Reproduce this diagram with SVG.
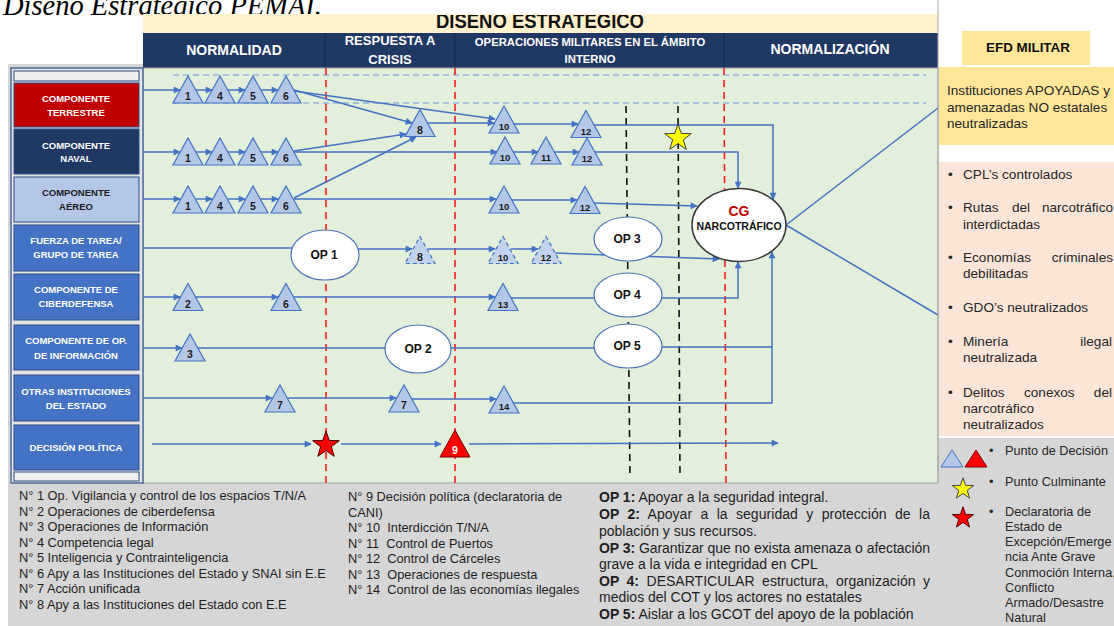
<svg xmlns="http://www.w3.org/2000/svg" width="1114" height="626" viewBox="0 0 1114 626">
<defs>
<style>
.f{font-family:"Liberation Sans",Arial,sans-serif}
.hdr{font-family:"Liberation Sans",Arial,sans-serif;font-weight:bold;fill:#fff;text-anchor:middle}
.cl{font-family:"Liberation Sans",Arial,sans-serif;font-weight:bold;font-size:9.5px;fill:#fff;text-anchor:middle}
.cld{fill:#1a1a1a}
.box{stroke:#2f4f86;stroke-width:1}
.t{fill:#b4c7e7;stroke:#4472c4;stroke-width:1.2}
.td{fill:#c3d2ec;stroke:#4472c4;stroke-width:1.2;stroke-dasharray:4 3}
.n{font-family:"Liberation Sans",Arial,sans-serif;font-weight:bold;font-size:10.5px;fill:#1a1a1a;text-anchor:middle}
.n2{font-size:9.5px}
.c{fill:none;stroke:#4472c4;stroke-width:1.5}
.a{marker-end:url(#arr)}
.op{fill:#fff;stroke:#4a72b8;stroke-width:1.2}
.opt{font-family:"Liberation Sans",Arial,sans-serif;font-weight:bold;font-size:12px;fill:#111;text-anchor:middle}
.rd{stroke:#ff1a1a;stroke-width:1.6;stroke-dasharray:7 5}
.bd{stroke:#111;stroke-width:1.6;stroke-dasharray:7 5}
.hd{stroke:#6b93d6;stroke-width:1.2;stroke-dasharray:6 4}
.lg{font-family:"Liberation Sans",Arial,sans-serif;font-size:12.8px;fill:#1e1e1e}
.lp{font-family:"Liberation Sans",Arial,sans-serif;font-size:14px;fill:#1e1e1e}
.rp{font-family:"Liberation Sans",Arial,sans-serif;font-size:13.6px;fill:#262626}
.re{text-anchor:end}
.rl{font-family:"Liberation Sans",Arial,sans-serif;font-size:12.7px;fill:#262626}
.b{font-weight:bold}
.pre{white-space:pre}
</style>
<marker id="arr" viewBox="0 0 10 10" refX="9" refY="5" markerWidth="9" markerHeight="7" markerUnits="userSpaceOnUse" orient="auto"><path d="M0,0 L10,5 L0,10 z" fill="#4472c4"/></marker>
<path id="tri" d="M0,-13.5 L15,13.5 L-15,13.5 Z"/>
<path id="star" d="M0,-14 L3.29,-4.53 L13.31,-4.33 L5.33,1.73 L8.23,11.33 L0,5.6 L-8.23,11.33 L-5.33,1.73 L-13.31,-4.33 L-3.29,-4.53 Z"/>
<clipPath id="bandclip"><rect x="143" y="15" width="795" height="18"/></clipPath>
</defs>

<rect width="1114" height="626" fill="#fff"/>
<rect x="8" y="64" width="930" height="562" fill="#d6d6d6"/>
<rect x="938" y="438" width="176" height="188" fill="#d6d6d6"/>

<text x="3" y="15" font-family="'Liberation Serif','Times New Roman',serif" font-style="italic" font-size="28.5" fill="#000">Diseño Estratégico  PEMAI.</text>

<g id="header">
<rect x="143" y="14" width="795" height="19" fill="#fff2cc"/>
<text x="540" y="28" clip-path="url(#bandclip)" font-family="'Liberation Sans',Arial,sans-serif" font-weight="bold" font-size="20" textLength="208" lengthAdjust="spacingAndGlyphs" text-anchor="middle" fill="#111">DISEÑO ESTRATÉGICO</text>
<rect x="143" y="33" width="795" height="35" fill="#1f3864"/>
<line x1="325" y1="33" x2="325" y2="68" stroke="#152a50" stroke-width="1.2"/>
<line x1="455" y1="33" x2="455" y2="68" stroke="#152a50" stroke-width="1.2"/>
<line x1="724" y1="33" x2="724" y2="68" stroke="#152a50" stroke-width="1.2"/>
<text class="hdr" x="234" y="55" font-size="14">NORMALIDAD</text>
<text class="hdr" x="390" y="45" font-size="13">RESPUESTA A</text>
<text class="hdr" x="390" y="64" font-size="13">CRISIS</text>
<text class="hdr" x="590" y="46" font-size="11.3">OPERACIONES MILITARES EN EL ÁMBITO</text>
<text class="hdr" x="590" y="63" font-size="11.3">INTERNO</text>
<text class="hdr" x="830" y="54" font-size="14">NORMALIZACIÓN</text>
</g>

<rect x="143" y="68" width="795" height="415" fill="#e2efda" stroke="#a6a6a6" stroke-width="1"/>

<g id="left-panel">
<rect x="11" y="68" width="132" height="415" fill="#e4e4e4" stroke="#4d6a9c" stroke-width="1.5"/>
<rect x="14" y="71" width="125" height="10" fill="#efefef" class="box"/>
<rect x="14" y="472" width="125" height="9" fill="#efefef" class="box"/>
</g>

<g id="comp-terrestre"><rect class="box" x="14" y="83" width="125" height="44" fill="#c00000"/><text class="cl" x="76" y="101.5">COMPONENTE</text><text class="cl" x="76" y="115.5">TERRESTRE</text></g>
<g id="comp-naval"><rect class="box" x="14" y="129" width="125" height="45" fill="#1f3864"/><text class="cl" x="76" y="148.5">COMPONENTE</text><text class="cl" x="76" y="162">NAVAL</text></g>
<g id="comp-aereo"><rect class="box" x="14" y="177" width="125" height="45" fill="#b4c7e7"/><text class="cl cld" x="76" y="196">COMPONENTE</text><text class="cl cld" x="76" y="210">AÉREO</text></g>
<g id="comp-fuerza"><rect class="box" x="14" y="225" width="125" height="46" fill="#4472c4"/><text class="cl" x="76" y="244">FUERZA DE TAREA/</text><text class="cl" x="76" y="258">GRUPO DE TAREA</text></g>
<g id="comp-ciber"><rect class="box" x="14" y="274" width="125" height="46" fill="#4472c4"/><text class="cl" x="76" y="293">COMPONENTE DE</text><text class="cl" x="76" y="307">CIBERDEFENSA</text></g>
<g id="comp-info"><rect class="box" x="14" y="325" width="125" height="45" fill="#4472c4"/><text class="cl" x="76" y="344">COMPONENTE DE OP.</text><text class="cl" x="76" y="358.5">DE INFORMACIÓN</text></g>
<g id="comp-otras"><rect class="box" x="14" y="375" width="125" height="46" fill="#4472c4"/><text class="cl" x="76" y="394.5">OTRAS INSTITUCIONES</text><text class="cl" x="76" y="409">DEL ESTADO</text></g>
<g id="comp-decision"><rect class="box" x="14" y="425" width="125" height="45" fill="#4472c4"/><text class="cl" x="76" y="451">DECISIÓN POLÍTICA</text></g>

<g id="guides">
<line class="hd" x1="173" y1="75" x2="926" y2="75"/>
<line class="hd" x1="173" y1="103" x2="926" y2="103"/>
<line class="rd" x1="326" y1="68" x2="326" y2="483"/>
<line class="rd" x1="455" y1="68" x2="455" y2="483"/>
<line class="rd" x1="724" y1="68" x2="726" y2="483"/>
<line class="bd" x1="626" y1="106" x2="630" y2="478"/>
<line class="bd" x1="678" y1="106" x2="680" y2="478"/>
</g>

<g id="connectors">
<path class="c a" d="M143,90 H180"/>
<path class="c a" d="M196,90 H212"/>
<path class="c a" d="M228,90 H245"/>
<path class="c a" d="M261,90 H278"/>
<path class="c a" d="M294,90 L412,123"/>
<path class="c a" d="M294,91 L495,119"/>
<path class="c a" d="M428,123 H494"/>
<path class="c a" d="M513,124 H578"/>
<path class="c a" d="M594,125 H773 V199"/>

<path class="c a" d="M143,152 H180"/>
<path class="c a" d="M196,152 H212"/>
<path class="c a" d="M228,152 H245"/>
<path class="c a" d="M261,152 H278"/>
<path class="c a" d="M294,151 L406,134"/>
<path class="c a" d="M294,198 L416,137"/>
<path class="c a" d="M294,152 H497"/>
<path class="c a" d="M513,152 H538"/>
<path class="c a" d="M554,152 H579"/>
<path class="c a" d="M595,152 H738 V188"/>

<path class="c a" d="M143,199 H180"/>
<path class="c a" d="M196,199 H212"/>
<path class="c a" d="M228,199 H245"/>
<path class="c a" d="M261,199 H278"/>
<path class="c a" d="M294,199 H496"/>
<path class="c a" d="M512,200 H577"/>
<path class="c a" d="M593,203 L697,206"/>

<path class="c" d="M143,248 H292"/>
<path class="c a" d="M358,249 H412"/>
<path class="c a" d="M428,249 H495"/>
<path class="c a" d="M511,249 H538"/>
<path class="c a" d="M554,253 L719,259"/>

<path class="c a" d="M143,297 H180"/>
<path class="c a" d="M196,297 H278"/>
<path class="c a" d="M294,297 H495"/>
<path class="c" d="M511,298 H595"/>
<path class="c a" d="M662,298 H738 V262"/>

<path class="c a" d="M143,348 H182"/>
<path class="c" d="M198,348 H386"/>
<path class="c" d="M451,348 H595"/>
<path class="c" d="M662,347 H772"/>

<path class="c a" d="M143,398 H272"/>
<path class="c a" d="M288,398 H396"/>
<path class="c a" d="M412,399 H496"/>
<path class="c a" d="M512,403 H772 V252"/>

<path class="c a" d="M152,444 H311"/>
<path class="c a" d="M341,444 H441"/>
<path class="c a" d="M469,444 L778,443"/>

<path class="c" d="M786,225 L938,108"/>
<path class="c" d="M786,225 L938,315"/>
</g>

<g id="n1-t"><use href="#tri" class="t" x="188" y="89.5"/><text class="n" x="188" y="100">1</text></g>
<g id="n4-t"><use href="#tri" class="t" x="220" y="89.5"/><text class="n" x="220" y="100">4</text></g>
<g id="n5-t"><use href="#tri" class="t" x="253" y="89.5"/><text class="n" x="253" y="100">5</text></g>
<g id="n6-t"><use href="#tri" class="t" x="286" y="89.5"/><text class="n" x="286" y="100">6</text></g>
<g id="n8"><use href="#tri" class="t" x="420" y="123"/><text class="n" x="420" y="133.5">8</text></g>
<g id="n10-t"><use href="#tri" class="t" x="504" y="119.5"/><text class="n n2" x="504" y="130">10</text></g>
<g id="n12-t"><use href="#tri" class="t" x="586" y="124"/><text class="n n2" x="586" y="134.5">12</text></g>

<g id="n1-n"><use href="#tri" class="t" x="188" y="151.5"/><text class="n" x="188" y="162">1</text></g>
<g id="n4-n"><use href="#tri" class="t" x="220" y="151.5"/><text class="n" x="220" y="162">4</text></g>
<g id="n5-n"><use href="#tri" class="t" x="253" y="151.5"/><text class="n" x="253" y="162">5</text></g>
<g id="n6-n"><use href="#tri" class="t" x="286" y="151.5"/><text class="n" x="286" y="162">6</text></g>
<g id="n10-n"><use href="#tri" class="t" x="505" y="150.5"/><text class="n n2" x="505" y="161">10</text></g>
<g id="n11-n"><use href="#tri" class="t" x="546" y="150.5"/><text class="n n2" x="546" y="161">11</text></g>
<g id="n12-n"><use href="#tri" class="t" x="587" y="151.5"/><text class="n n2" x="587" y="162">12</text></g>

<g id="n1-a"><use href="#tri" class="t" x="188" y="199.5"/><text class="n" x="188" y="210">1</text></g>
<g id="n4-a"><use href="#tri" class="t" x="220" y="199.5"/><text class="n" x="220" y="210">4</text></g>
<g id="n5-a"><use href="#tri" class="t" x="253" y="199.5"/><text class="n" x="253" y="210">5</text></g>
<g id="n6-a"><use href="#tri" class="t" x="286" y="199.5"/><text class="n" x="286" y="210">6</text></g>
<g id="n10-a"><use href="#tri" class="t" x="504" y="199.5"/><text class="n n2" x="504" y="210">10</text></g>
<g id="n12-a"><use href="#tri" class="t" x="585" y="200"/><text class="n n2" x="585" y="210.5">12</text></g>

<g id="n8-f"><use href="#tri" class="td" x="420" y="250"/><text class="n" x="420" y="260.5">8</text></g>
<g id="n10-f"><use href="#tri" class="td" x="503" y="250"/><text class="n n2" x="503" y="260.5">10</text></g>
<g id="n12-f"><use href="#tri" class="td" x="546" y="250"/><text class="n n2" x="546" y="260.5">12</text></g>

<g id="n2-c"><use href="#tri" class="t" x="188" y="297"/><text class="n" x="188" y="307.5">2</text></g>
<g id="n6-c"><use href="#tri" class="t" x="286" y="297"/><text class="n" x="286" y="307.5">6</text></g>
<g id="n13-c"><use href="#tri" class="t" x="503" y="297"/><text class="n n2" x="503" y="307.5">13</text></g>

<g id="n3-i"><use href="#tri" class="t" x="190" y="347.5"/><text class="n" x="190" y="358">3</text></g>

<g id="n7a-o"><use href="#tri" class="t" x="280" y="398.5"/><text class="n" x="280" y="409">7</text></g>
<g id="n7b-o"><use href="#tri" class="t" x="404" y="398.5"/><text class="n" x="404" y="409">7</text></g>
<g id="n14-o"><use href="#tri" class="t" x="504" y="399.5"/><text class="n n2" x="504" y="410">14</text></g>

<g id="n9"><use href="#tri" x="455" y="443.5" fill="#ff0000" stroke="#7a0000" stroke-width="1"/><text class="n" x="455" y="454" style="fill:#fff">9</text></g>
<g id="star-decl"><use href="#star" x="326" y="445" fill="#ff0000" stroke="#4a0000" stroke-width="1"/></g>
<g id="star-culm"><use href="#star" x="678" y="138" fill="#ffff00" stroke="#404040" stroke-width="1"/></g>

<g id="op1"><ellipse class="op" cx="325" cy="255" rx="34" ry="25"/><text class="opt" x="324" y="259">OP 1</text></g>
<g id="op2"><ellipse class="op" cx="418" cy="349" rx="33" ry="24"/><text class="opt" x="418" y="353">OP 2</text></g>
<g id="op3"><ellipse class="op" cx="628" cy="239" rx="34" ry="22"/><text class="opt" x="627" y="243">OP 3</text></g>
<g id="op4"><ellipse class="op" cx="628" cy="295" rx="34" ry="22"/><text class="opt" x="627" y="299">OP 4</text></g>
<g id="op5"><ellipse class="op" cx="628" cy="346" rx="34" ry="22"/><text class="opt" x="627" y="350">OP 5</text></g>

<g id="cg"><ellipse cx="739" cy="225" rx="47" ry="36.5" fill="#fff" stroke="#3a3a3a" stroke-width="1.5"/>
<text x="739" y="216" class="f" font-weight="bold" font-size="14" fill="#c00000" text-anchor="middle">CG</text>
<text x="739" y="230" class="f" font-weight="bold" font-size="10.5" fill="#111" text-anchor="middle">NARCOTRÁFICO</text></g>

<line x1="938" y1="0" x2="938" y2="483" stroke="#a6a6a6" stroke-width="1"/>

<g id="efd-title"><rect x="962" y="31" width="128" height="34" fill="#ffe699"/><text x="1028" y="52" class="f" font-weight="bold" font-size="13.4" fill="#111" text-anchor="middle">EFD MILITAR</text></g>

<g id="efd-main"><rect x="939" y="67" width="175" height="78" fill="#ffe699"/>
<text class="rp" x="947" y="95">Instituciones APOYADAS y</text>
<text class="rp" x="947" y="112">amenazadas NO estatales</text>
<text class="rp" x="947" y="128">neutralizadas</text></g>

<g id="efd-list"><rect x="939" y="162" width="175" height="274" fill="#fbe5d6"/>
<text class="rp" x="948" y="179">•</text><text class="rp" x="963" y="179">CPL’s controlados</text>
<text class="rp" x="948" y="212">•</text><text class="rp" x="963" y="212">Rutas</text><text class="rp" x="1012" y="212">del</text><text class="rp re" x="1113" y="212">narcotráfico</text>
<text class="rp" x="963" y="229">interdictadas</text>
<text class="rp" x="948" y="262">•</text><text class="rp" x="963" y="262">Economías</text><text class="rp re" x="1113" y="262">criminales</text>
<text class="rp" x="963" y="278">debilitadas</text>
<text class="rp" x="948" y="312">•</text><text class="rp" x="963" y="312">GDO’s neutralizados</text>
<text class="rp" x="948" y="346">•</text><text class="rp" x="963" y="346">Minería</text><text class="rp re" x="1112" y="346">ilegal</text>
<text class="rp" x="963" y="362">neutralizada</text>
<text class="rp" x="948" y="397">•</text><text class="rp" x="963" y="397">Delitos</text><text class="rp" x="1024" y="397">conexos</text><text class="rp re" x="1112" y="397">del</text>
<text class="rp" x="963" y="413">narcotráfico</text>
<text class="rp" x="963" y="429">neutralizados</text></g>

<g id="legend-symbols">
<polygon points="952,450 963,467 941,467" fill="#b4c7e7" stroke="#4472c4" stroke-width="1"/>
<polygon points="976,450 987,467 965,467" fill="#ff0000" stroke="#7a0000" stroke-width="1"/>
<text class="rl" x="989" y="455">•</text><text class="rl" x="1005" y="455">Punto de Decisión</text>
<use href="#star" transform="translate(963,489) scale(0.8)" fill="#ffff00" stroke="#404040" stroke-width="1.2"/>
<text class="rl" x="989" y="486">•</text><text class="rl" x="1005" y="486">Punto Culminante</text>
<use href="#star" transform="translate(963,518) scale(0.8)" fill="#ff0000" stroke="#4a0000" stroke-width="1.2"/>
<text class="rl" x="989" y="516">•</text>
<text class="rl" x="1005" y="516">Declaratoria de</text>
<text class="rl" x="1005" y="531">Estado de</text>
<text class="rl" x="1005" y="546">Excepción/Emerge</text>
<text class="rl" x="1005" y="561">ncia Ante Grave</text>
<text class="rl" x="1005" y="577">Conmoción Interna,</text>
<text class="rl" x="1005" y="592">Conflicto</text>
<text class="rl" x="1005" y="607">Armado/Desastre</text>
<text class="rl" x="1005" y="622">Natural</text>
</g>

<g id="legend-numbers">
<text class="lg" x="19" y="500">N° 1 Op. Vigilancia y control de los espacios T/N/A</text>
<text class="lg" x="19" y="515.5">N° 2 Operaciones de ciberdefensa</text>
<text class="lg" x="19" y="531">N° 3 Operaciones de Información</text>
<text class="lg" x="19" y="546.5">N° 4 Competencia legal</text>
<text class="lg" x="19" y="562">N° 5 Inteligencia y Contrainteligencia</text>
<text class="lg" x="19" y="577.5">N° 6 Apy a las Instituciones del Estado y SNAI sin E.E</text>
<text class="lg" x="19" y="593">N° 7 Acción unificada</text>
<text class="lg" x="19" y="608.5">N° 8 Apy a las Instituciones del Estado con E.E</text>
<text class="lg" x="348" y="501">N° 9 Decisión política (declaratoria de</text>
<text class="lg" x="348" y="516.5">CANI)</text>
<text class="lg pre" x="348" y="532">N° 10  Interdicción T/N/A</text>
<text class="lg pre" x="348" y="547.5">N° 11  Control de Puertos</text>
<text class="lg pre" x="348" y="563">N° 12  Control de Cárceles</text>
<text class="lg pre" x="348" y="578.5">N° 13  Operaciones de respuesta</text>
<text class="lg pre" x="348" y="594">N° 14  Control de las economías ilegales</text>
</g>

<g id="legend-ops">
<text class="lp" x="599" y="502"><tspan class="b">OP 1:</tspan> Apoyar a la seguridad integral.</text>
<text class="lp" x="599" y="519" word-spacing="4.4" textLength="331" lengthAdjust="spacing"><tspan class="b">OP 2:</tspan> Apoyar a la seguridad y protección de la</text>
<text class="lp" x="599" y="536">población y sus recursos.</text>
<text class="lp" x="599" y="552.5" textLength="331" lengthAdjust="spacing"><tspan class="b">OP 3:</tspan> Garantizar que no exista amenaza o afectación</text>
<text class="lp" x="599" y="569">grave a la vida e integridad en CPL</text>
<text class="lp" x="599" y="585.5" word-spacing="3.6" textLength="331" lengthAdjust="spacing"><tspan class="b">OP 4:</tspan> DESARTICULAR estructura, organización y</text>
<text class="lp" x="599" y="602">medios del COT y los actores no estatales</text>
<text class="lp" x="599" y="618.5"><tspan class="b">OP 5:</tspan> Aislar a los GCOT del apoyo de la población</text>
</g>
</svg>
